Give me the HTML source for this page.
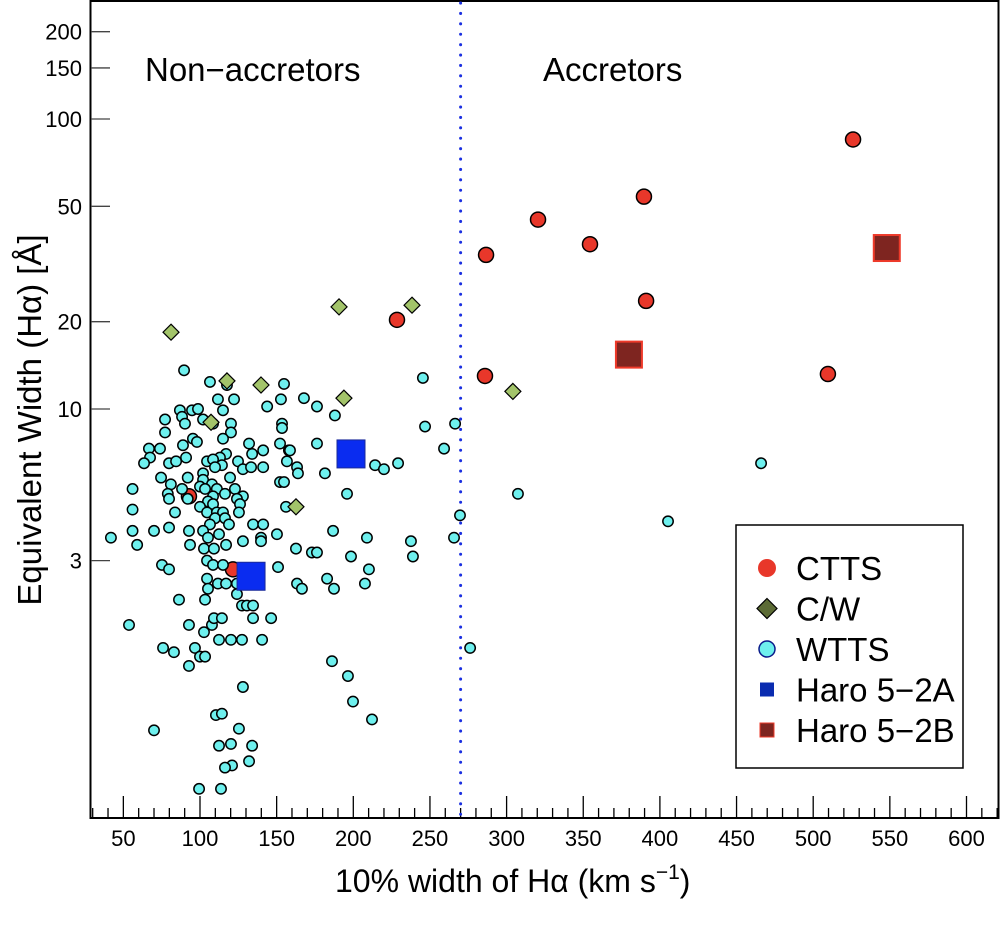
<!DOCTYPE html>
<html><head><meta charset="utf-8"><style>
html,body{margin:0;padding:0;background:#fff;}
svg{display:block;font-family:"Liberation Sans",sans-serif;}
</style></head><body>
<svg id="chart" width="1000" height="925" viewBox="0 0 1000 925"></svg>
<script>
const xTicks=[50,100,150,200,250,300,350,400,450,500,550,600];
const yTicks=[3,10,20,50,100,150,200];
const boundary=270;
const wtts=[[89.6,13.6],[106.5,12.4],[117.6,12.1],[154.8,12.2],[167.8,10.9],[111.7,10.8],[122.2,10.8],[152.8,10.8],[143.8,10.2],[86.9,9.9],[94.8,9.9],[98.7,10.0],[115,9.9],[77.2,9.2],[88.3,9.4],[90.2,8.9],[102,9.2],[108.5,8.9],[120.2,8.9],[153.5,8.9],[153.5,8.6],[77.2,8.3],[120.2,8.3],[95.4,7.9],[98,7.7],[115,7.9],[132,7.6],[152.2,7.6],[66.7,7.3],[73.9,7.3],[88.9,7.5],[117,7.0],[134,7.0],[141.2,7.2],[158,7.2],[67.4,6.8],[90.9,6.8],[113,6.8],[63.5,6.5],[79.8,6.5],[84.4,6.6],[104.6,6.6],[108.5,6.7],[114.3,6.4],[124.8,6.6],[128,6.2],[133.3,6.3],[141.2,6.3],[156.7,6.6],[163.3,6.3],[163.9,6.0],[102,6.0],[109.8,6.3],[119.6,5.8],[74.6,5.8],[92,5.8],[102,5.7],[152.2,5.6],[154.8,5.6],[56,5.3],[81,5.5],[100,5.4],[107.8,5.5],[88.3,5.3],[79,5.1],[103.3,5.3],[111,5.3],[122.8,5.3],[128,5.0],[116.3,5.1],[92,4.9],[79.8,4.9],[108.5,5.0],[105.2,4.8],[124.1,4.9],[126.1,4.7],[56,4.5],[100,4.6],[108.5,4.7],[104.6,4.4],[111,4.4],[115,4.4],[125.4,4.4],[156.1,4.6],[83.7,4.4],[109.8,4.2],[116.3,4.2],[118.9,4.0],[106.5,4.0],[134.6,4.0],[141.2,4.0],[56,3.8],[70,3.8],[79.8,3.9],[92.8,3.8],[102,3.8],[112.4,3.7],[105.2,3.6],[150.2,3.7],[139.8,3.6],[41.9,3.6],[59,3.4],[93.5,3.4],[117,3.4],[128,3.5],[139.8,3.5],[102.6,3.3],[109.1,3.3],[162.6,3.3],[75.2,2.9],[79.8,2.8],[104.6,3.0],[108.5,2.9],[115,2.9],[150.9,2.85],[104.6,2.6],[111.7,2.5],[117,2.5],[124.1,2.5],[105.2,2.4],[163.3,2.5],[166.5,2.4],[124.1,2.3],[86.3,2.2],[103.3,2.2],[127.4,2.1],[130.6,2.1],[134.6,2.1],[53.7,1.8],[92.8,1.8],[107.8,1.8],[109.1,1.9],[114.3,1.9],[134.6,1.9],[146.4,1.9],[102.6,1.7],[112.4,1.6],[120.2,1.6],[127.4,1.6],[140.5,1.6],[75.9,1.5],[83,1.45],[96.7,1.5],[100,1.4],[103.3,1.4],[92.8,1.3],[186.1,1.35],[196.5,1.2],[199.8,0.98],[212.2,0.85],[128,1.1],[110.4,0.88],[114.3,0.89],[125.4,0.79],[70,0.78],[112.4,0.69],[120.2,0.70],[134,0.69],[132,0.61],[120.9,0.59],[116.3,0.58],[99.4,0.49],[113.7,0.49],[245.4,12.8],[176.3,10.2],[188,9.5],[246.8,8.7],[266.4,8.9],[259.2,7.3],[176.3,7.6],[158.7,7.2],[214.2,6.4],[220,6.2],[229.2,6.5],[181.5,6.0],[195.9,5.1],[269.6,4.3],[186.8,3.8],[208.9,3.6],[237.6,3.5],[265.7,3.6],[173,3.2],[176.3,3.2],[198.5,3.1],[238.9,3.1],[210.2,2.8],[182.9,2.6],[187.4,2.4],[207.6,2.5],[276.2,1.5],[307.4,5.1],[405.3,4.1],[466,6.5]];
const cttsHidden=[[92.8,5.0],[121.5,2.8]];
const ctts=[[526,85],[389.6,54],[320.5,45],[354.4,37],[286.6,34],[391,23.6],[228.5,20.3],[285.9,13],[509.6,13.2]];
const cw=[[81.1,18.4],[190.7,22.5],[238.3,22.8],[117.6,12.5],[139.8,12.1],[193.9,10.9],[107.2,9.0],[162.6,4.6],[304.1,11.5]];
const haroA=[[133.3,2.65],[198.5,7.0]];
const haroB=[[379.8,15.4],[548,35.9]];

const NS="http://www.w3.org/2000/svg";
const svg=document.getElementById('chart');
const X=v=>46.7+v*1.533;
const Y=v=>409-(Math.log10(v)-1)*290;
function mk(tag,at,parent){const e=document.createElementNS(NS,tag);for(const k in at)e.setAttribute(k,at[k]);(parent||svg).appendChild(e);return e;}
function txt(s,at){const e=mk('text',at);e.textContent=s;return e;}

let el;
el=mk('rect',{x:90.5,y:1,width:908,height:817,fill:'none',stroke:'#000','stroke-width':2});



for(let v=30;v<=620;v+=10){
  const major=v%50===0;
  el=mk('line',{x1:X(v),x2:X(v),y1:818,y2:major?796:808,stroke:'#000','stroke-width':1.3});
  
  
}
xTicks.forEach(v=>{
  el=txt(String(v),{x:X(v),y:846,'font-size':22,'text-anchor':'middle'});
  
  
});
yTicks.forEach(v=>{
  el=mk('line',{x1:91,x2:110,y1:Y(v),y2:Y(v),stroke:'#444','stroke-width':1.3});
  
  
  el=txt(String(v),{x:82,y:Y(v)+8,'font-size':22,'text-anchor':'end'});
  
  
});

el=txt('10% width of H\u03B1 (km s',{x:335,y:892,'font-size':32});


const sup=mk('tspan',{dy:-13,'font-size':21},el);sup.textContent='\u22121';
const cl=mk('tspan',{dy:13},el);cl.textContent=')';

el=txt('Equivalent Width (H\u03B1) [\u00C5]',{x:0,y:0,'font-size':33,'text-anchor':'middle',transform:'translate(41,420) rotate(-90)'});



el=txt('Non\u2212accretors',{x:145,y:81,'font-size':33});


el=txt('Accretors',{x:543,y:81,'font-size':33});



el=mk('line',{x1:X(boundary),x2:X(boundary),y1:3,y2:818,stroke:'#1a2fe0','stroke-width':3,'stroke-dasharray':'0.1 10.3','stroke-linecap':'round'});



function circ(d,r,fill,name){el=mk('circle',{cx:X(d[0]),cy:Y(d[1]),r:r,fill:fill,stroke:'#000','stroke-width':1.5});
  
  }
cttsHidden.forEach(d=>circ(d,7.5,'#e8372a','ctts-point'));
wtts.forEach(d=>circ(d,5.2,'#6ef0ee','wtts-point'));
ctts.forEach(d=>circ(d,7.5,'#e8372a','ctts-point'));
cw.forEach(d=>{const cx=X(d[0]),cy=Y(d[1]);
  el=mk('polygon',{points:`${cx},${cy-8} ${cx+8},${cy} ${cx},${cy+8} ${cx-8},${cy}`,fill:'#a3c46a',stroke:'#000','stroke-width':1.2});
  
  });
haroA.forEach(d=>{el=mk('rect',{x:X(d[0])-14,y:Y(d[1])-14,width:28,height:28,fill:'#0a2cf0',stroke:'#1a2a9a','stroke-width':1});
  
  });
haroB.forEach(d=>{el=mk('rect',{x:X(d[0])-13,y:Y(d[1])-13,width:26,height:26,fill:'#7e2520',stroke:'#ee3a2a','stroke-width':2});
  
  });

const lg=mk('g',{});


mk('rect',{x:736,y:525,width:227,height:243,fill:'#fff',stroke:'#000','stroke-width':1.5},lg);
const ents=['CTTS','C/W','WTTS','Haro 5\u22122A','Haro 5\u22122B'];
ents.forEach((t,i)=>{
  const cy=568+i*40.5, cx=767;
  const g=mk('g',{},lg);
  
  
  if(i===0) mk('circle',{cx,cy,r:9,fill:'#e8372a'},g);
  if(i===1) mk('polygon',{points:`${cx},${cy-10} ${cx+10},${cy} ${cx},${cy+10} ${cx-10},${cy}`,fill:'#5c6b35',stroke:'#000','stroke-width':1.2},g);
  if(i===2) mk('circle',{cx,cy,r:8,fill:'#6ef0ee',stroke:'#0a1a8a','stroke-width':1.5},g);
  if(i===3) mk('rect',{x:cx-7,y:cy-7,width:14,height:14,fill:'#0a2cb0'},g);
  if(i===4) mk('rect',{x:cx-7,y:cy-7,width:14,height:14,fill:'#7e2520',stroke:'#ee3a2a','stroke-width':1},g);
  const tt=mk('text',{x:796,y:cy+12,'font-size':33},g);tt.textContent=t;
});
</script>
</body></html>
